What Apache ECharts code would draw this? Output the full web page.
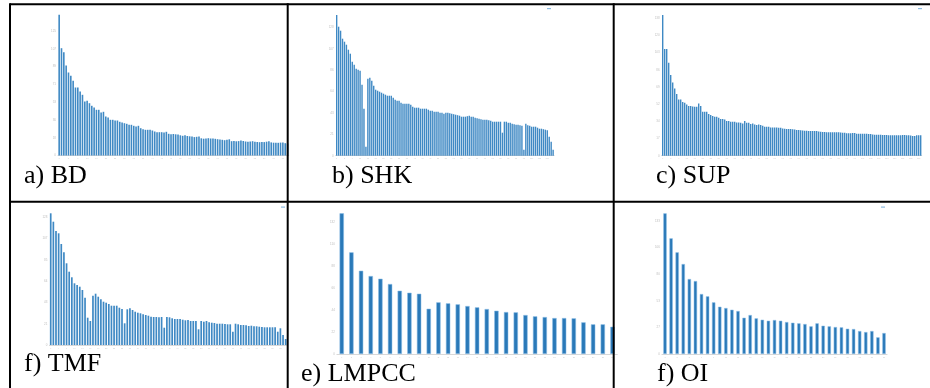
<!DOCTYPE html>
<html><head><meta charset="utf-8">
<script src="https://cdn.jsdelivr.net/npm/echarts@6/dist/echarts.min.js"></script>
<style>html,body{margin:0;padding:0;background:#fff}#c{width:930px;height:388px}</style>
</head><body><div id="c"></div>
<script>
// ---- data (bar heights, arbitrary units) ----
const BD = [140.7,107.3,103.3,90,83,79.7,74.7,68,68,64,60.7,54,54.7,52.3,49.7,48,45.7,45.7,43,43.7,
  39,38,35.7,35.7,35,35,33.7,33,32.3,31.7,30.7,30.7,29.7,29,29.7,27.3,26.3,25.7,25.7,25.7,
  25,24,23.3,23.3,23.3,23,23.7,21.7,21.3,21.5,21.2,21,20.2,19.7,20.3,19.5,19.2,19,18.4,18.7,
  19,17.2,16.8,16.9,17.3,17,16.9,16.7,16.3,16,15.7,15.3,15.8,16.2,14.3,14.4,14.2,14.4,14.9,14.5,
  14,13.7,14,14.3,13.7,13.5,13.3,13.6,13.4,13.8,14.2,13.1,12.8,12.7,12.7,12.9,13,12.3,12];
const SHK = [140.7,129,125,117,114,111,106,102,94,91,87,86,85,71,47,9,77,78,75,70,
  66,65,64,63,62,61,60,60,60,58,56,55,55,53,52,52,52,52,51,49,
  48,48,48,47,47,47,47,46,45,45,44,44,44,43,43,42,43,43,42.5,42,
  41.5,41,40.5,40,39,39,39,39.5,40,39,39,38,37.5,37,36.5,36,36,36,35.5,35,
  34,34,34,34,34,23,34,34,33,33,32,31.5,31,31,30.5,30,6,32,30.5,30,
  29,29,29,28,27,27,26.5,26,25.5,19,14,6];
const SUP = [140.7,106.7,106.7,93,80.7,73.3,67.3,61.7,56.3,56.3,53.7,53,51.3,49.7,49.7,49.3,49,49,52.3,49.7,
  44,44,44,41.7,40.7,39.7,39,39,38,36.7,36.7,36.3,34.7,34.7,34,34,34,33.3,33.3,33,
  32.3,34.7,33,33,31.7,32.3,31.3,30.7,31.3,30.7,30,29,29,29,28.3,28.3,28.3,28.3,28,28,
  27.3,27,26.7,26.7,26.7,26.4,26.2,25.7,25.7,25.5,25.1,25,25,24.8,24.7,24.7,24.7,24.7,24.3,24,
  23.8,23.7,23.4,23.4,23.4,23.4,23.4,23.4,23.4,23.2,23,23,22.4,22.4,22.4,22.8,22.6,22,22,22,
  22,22,22,21.8,21.7,21.2,21,21,21,21,20.8,20.7,20.7,20.5,20.4,20.4,20.4,20.4,20.4,20.4,
  20.6,20.7,20.4,20.4,20.2,19.8,19.7,20.4,20.4,20.4];
const TMF = [131.7,123.3,114,111.7,101,92.7,81.7,73.3,67.7,61.7,60,58.3,55,47.3,27.3,24,49.3,51.3,48.3,45.7,
  43.3,42.3,41,39.3,39.3,39.3,37.3,36,21.7,35.7,36.7,35,33.3,32.3,31.7,30.7,30,29.3,28.3,28,
  28,27.7,28,17.3,28,27.7,26.7,26,26,26,25.3,24.7,25,24,24,24,15.7,24,23.3,24,
  22.7,22.3,22,21.3,21.3,21.3,21,20.7,20.7,13.3,21.3,20.7,20,20,19.7,19,19.3,18.7,18.7,18.3,
  18,17.7,17.7,17.7,17.7,17.7,13.3,16.7,10,6];
const LMPCC = [140.7,101.7,83.3,78,75.3,70,63.3,61.3,60.3,45.3,51.7,50.7,49.7,48,46.7,45,43.3,42,41.7,39,
  37.7,37,36,36,35.7,31.7,29.7,29.7,27.3];
const OI = [140.7,115.7,101.7,90,75,73,60,57.7,51.7,47.3,46,44.3,43,36.3,39,35.7,34.3,33.3,34,33.3,
  32,31.3,30.7,30,27.7,30.7,28.3,27.7,27,26.7,25.3,25,23,22,23,16.7,21];
const LABELS = ['a) BD','b) SHK','c) SUP','f) TMF','e) LMPCC','f) OI'];

// ---- layout / style ----
const panels = [
  {name:'BD',    data:BD,    left:58,    top:13.1, width:230.7, height:142.4, interval:17.8, bw:1.6, thick:false, legend:null},
  {name:'SHK',   data:SHK,   left:335.7, top:13.7, width:218.4, height:142,   interval:21.4, bw:1.4, thick:false, legend:[547,8]},
  {name:'SUP',   data:SUP,   left:661.7, top:14.7, width:260,   height:141,   interval:17.2, bw:1.4, thick:false, legend:[918,8]},
  {name:'TMF',   data:TMF,   left:49.4,  top:213,  width:237.6, height:132,   interval:21.3, bw:1.7, thick:false, legend:[281,206.5]},
  {name:'LMPCC', data:LMPCC, left:336.9, top:213,  width:280.4, height:141,   interval:22,   bw:4.4, thick:true,  legend:null},
  {name:'OI',    data:OI,    left:661.96,top:213,  width:225.1, height:141,   interval:26.6, bw:3.4, thick:true,  legend:[881,206.5]}
];
const titlePos = [[24,163.5],[332,163],[656,163],[24,351],[301,361],[657,361]];

const grid=[], xAxis=[], yAxis=[], series=[], title=[], legend=[];
panels.forEach((p,i)=>{
  grid.push({left:p.left, top:p.top, width:p.width, height:p.height, containLabel:false});
  xAxis.push({type:'category', gridIndex:i, data:p.data.map((_,k)=>String(k+1)), boundaryGap:true,
    axisLine:{lineStyle:{color:'#d8d8d8', width:1}}, axisTick:{show:false},
    axisLabel:{fontSize:2, color:'#c8c8c8', margin:2}});
  yAxis.push({type:'value', gridIndex:i, min:0, max:p.height, interval:p.interval,
    splitLine:{show:false}, axisLine:{show:false}, axisTick:{show:false},
    axisLabel:{fontSize:3, color:'#c0c0c0', margin:2, showMaxLabel:false, formatter:v=>Math.round(v)}});
  series.push({type:'bar', name:p.name, xAxisIndex:i, yAxisIndex:i, data:p.data, barWidth:p.bw,
    animation:false, silent:true,
    itemStyle: p.thick ? {color:'#2a79b8', borderColor:'rgba(140,190,230,0.9)', borderWidth:0.6}
                       : {color:'#3f89c4'}});
  title.push({text:LABELS[i], left:titlePos[i][0], top:titlePos[i][1], padding:0,
    textStyle:{fontFamily:"'Liberation Serif', 'Times New Roman', serif", fontWeight:'normal', fontSize:26, lineHeight:26, color:'#000'}});
  if (p.legend) legend.push({data:[p.name], left:p.legend[0], top:p.legend[1], padding:0, itemGap:0,
    itemWidth:4, itemHeight:1.2, icon:'rect', selectedMode:false,
    itemStyle:{color:'#8dbbe0', borderWidth:0},
    textStyle:{fontSize:1, color:'rgba(0,0,0,0)'}});
});

const L = (x1,y1,x2,y2)=>({type:'line', z:100, shape:{x1,y1,x2,y2}, style:{stroke:'#000', lineWidth:2}});
const graphic = [
  L(10,4.3,930,4.3), L(10,201.8,930,201.8),
  L(10,3.3,10,388), L(287.7,3.3,287.7,388), L(613.7,3.3,613.7,388)
];

const chart = echarts.init(document.getElementById('c'), null, {renderer:'canvas'});
chart.setOption({animation:false, grid, xAxis, yAxis, series, title, legend, graphic});
</script></body></html>
